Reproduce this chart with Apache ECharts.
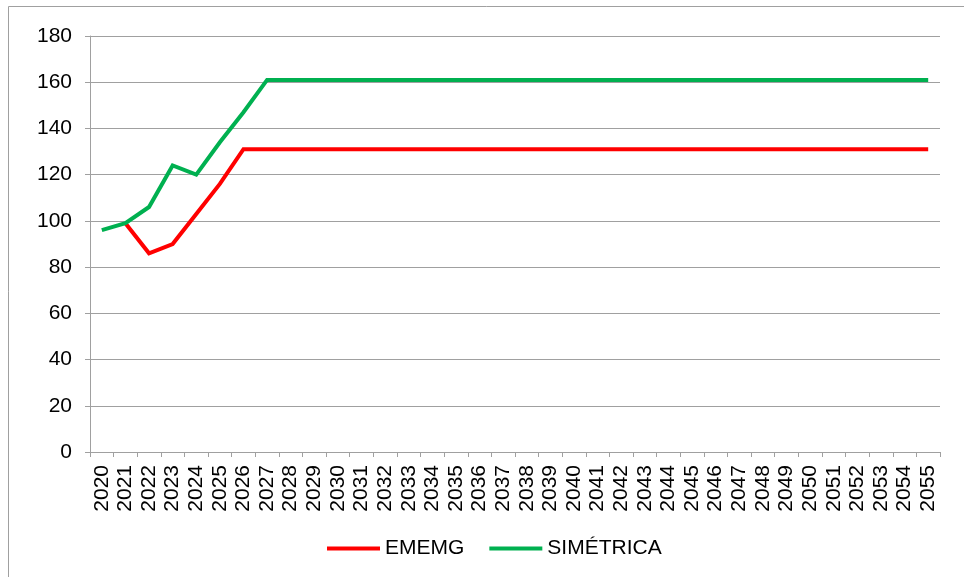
<!DOCTYPE html>
<html>
<head>
<meta charset="utf-8">
<script src="https://cdn.jsdelivr.net/npm/echarts@6/dist/echarts.min.js"></script>
<style>
  html, body { margin: 0; padding: 0; background: #fff; }
  #chart { width: 964px; height: 577px; }
</style>
</head>
<body>
<div id="chart"></div>
<script>
// Years on the horizontal axis
const years = [];
for (let y = 2020; y <= 2055; y++) years.push(String(y));

// EMEMG trajectory
const ememg = [96, 99, 86, 90, 103, 116, 131, 131, 131, 131, 131, 131, 131, 131, 131, 131, 131, 131,
               131, 131, 131, 131, 131, 131, 131, 131, 131, 131, 131, 131, 131, 131, 131, 131, 131, 131];
// SIMÉTRICA trajectory
const simetrica = [96, 99, 106, 124, 120, 134, 147, 161, 161, 161, 161, 161, 161, 161, 161, 161, 161, 161,
                   161, 161, 161, 161, 161, 161, 161, 161, 161, 161, 161, 161, 161, 161, 161, 161, 161, 161];
// EMEMG starts at 2021 where it joins SIMÉTRICA
ememg[0] = null;

const yTicks = { min: 0, max: 180, interval: 20 };

const chart = echarts.init(document.getElementById('chart'), null, { renderer: 'canvas' });
const font = '"Liberation Sans", Arial, sans-serif';
const gray = '#a0a0a0';

chart.setOption({
  animation: false,
  backgroundColor: '#ffffff',
  textStyle: { fontFamily: font },
  graphic: [
    { type: 'line', shape: { x1: 8.5, y1: 6.5, x2: 8.5, y2: 577 }, style: { stroke: gray, lineWidth: 1 } },
    { type: 'line', shape: { x1: 8.5, y1: 6.5, x2: 964, y2: 6.5 }, style: { stroke: gray, lineWidth: 1 } }
  ],
  grid: { left: 90, right: 24, top: 36, bottom: 125, containLabel: false },
  legend: {
    left: 322,
    top: 533,
    itemWidth: 53,
    itemHeight: 4,
    itemGap: 25,
    icon: 'rect',
    textStyle: { fontFamily: font, fontSize: 21, color: '#000' },
    data: ['EMEMG', 'SIMÉTRICA']
  },
  xAxis: {
    type: 'category',
    data: years,
    boundaryGap: true,
    axisLine: { lineStyle: { color: gray, width: 1 } },
    axisTick: { show: true, length: 5, interval: 0, alignWithLabel: false, lineStyle: { color: gray } },
    axisLabel: { interval: 0, rotate: 90, margin: 13, fontSize: 21, color: '#000', fontFamily: font }
  },
  yAxis: {
    type: 'value',
    min: yTicks.min,
    max: yTicks.max,
    interval: yTicks.interval,
    axisLine: { show: true, lineStyle: { color: gray, width: 1 } },
    axisTick: { show: true, length: 5, lineStyle: { color: gray } },
    axisLabel: { fontSize: 21, color: '#000', margin: 18, fontFamily: font },
    splitLine: { show: true, lineStyle: { color: gray, width: 1 } }
  },
  series: [
    {
      name: 'EMEMG',
      type: 'line',
      data: ememg,
      symbol: 'none',
      connectNulls: false,
      itemStyle: { color: '#ff0000' },
      lineStyle: { color: '#ff0000', width: 4, join: 'miter' }
    },
    {
      name: 'SIMÉTRICA',
      type: 'line',
      data: simetrica,
      symbol: 'none',
      itemStyle: { color: '#00b050' },
      lineStyle: { color: '#00b050', width: 4, join: 'miter' }
    }
  ]
});
</script>
</body>
</html>
